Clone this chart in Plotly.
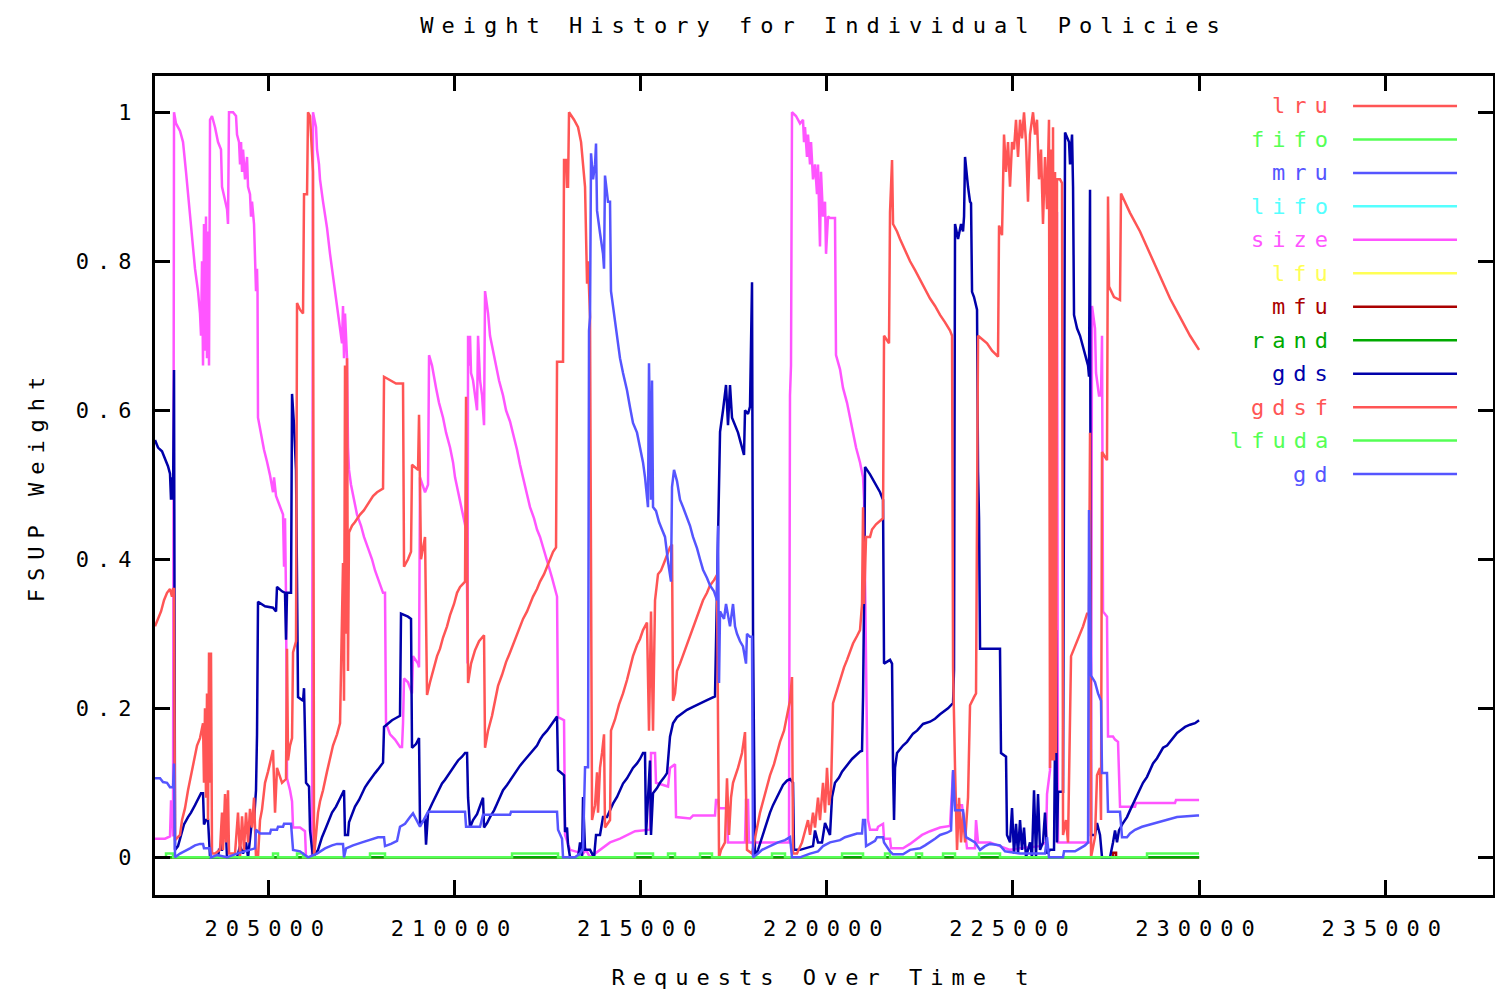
import plotly.graph_objects as go

# Weight history of the individual cache-replacement policies.
# Each series is a list of (request number, weight) points.

X_START, X_END = 201956, 230000

size_pts = [
    (201956, 0.025), (202225, 0.025), (202359, 0.028), (202386, 0.075), (202413, 0.075),
    (202440, 0.028), (202467, 1.0), (202520, 0.985), (202628, 0.975), (202709, 0.96),
    (202789, 0.92), (202843, 0.89), (202896, 0.86), (202977, 0.82), (203031, 0.79),
    (203111, 0.76), (203165, 0.73), (203192, 0.70), (203219, 0.80), (203246, 0.66),
    (203272, 0.85), (203299, 0.68), (203326, 0.86), (203353, 0.67), (203380, 0.84),
    (203407, 0.66), (203434, 0.99), (203487, 0.995), (203568, 0.98), (203649, 0.96),
    (203729, 0.95), (203756, 0.90), (203837, 0.88), (203891, 0.87), (203917, 0.85),
    (203944, 1.0), (204052, 1.0), (204132, 0.995), (204159, 0.97), (204213, 0.96),
    (204240, 0.93), (204267, 0.96), (204294, 0.92), (204321, 0.95), (204374, 0.91),
    (204428, 0.94), (204455, 0.90), (204508, 0.89), (204535, 0.86), (204562, 0.88),
    (204616, 0.85), (204642, 0.80), (204669, 0.76), (204696, 0.79), (204710, 0.76),
    (204723, 0.59), (204804, 0.567), (204884, 0.547), (204965, 0.531), (205045, 0.513),
    (205126, 0.49), (205153, 0.51), (205207, 0.485), (205287, 0.475), (205395, 0.46),
    (205422, 0.39), (205448, 0.455), (205475, 0.35), (205502, 0.106), (205583, 0.09),
    (205637, 0.075), (205664, 0.04), (205851, 0.04), (205985, 0.035), (206012, 0.0),
    (206173, 0.0), (206200, 1.0), (206281, 0.98), (206308, 0.95), (206361, 0.93),
    (206388, 0.91), (206469, 0.88), (206576, 0.845), (206657, 0.81), (206737, 0.78),
    (206818, 0.755), (206899, 0.72), (206979, 0.69), (207006, 0.74), (207033, 0.67),
    (207060, 0.73), (207114, 0.67), (207140, 0.55), (207167, 0.52), (207221, 0.50),
    (207302, 0.48), (207382, 0.46), (207490, 0.445), (207570, 0.43), (207678, 0.415),
    (207785, 0.40), (207866, 0.385), (207973, 0.37), (208081, 0.355), (208134, 0.355),
    (208161, 0.18), (208269, 0.165), (208403, 0.158), (208537, 0.148), (208591, 0.148),
    (208618, 0.18), (208645, 0.24), (208752, 0.235), (208859, 0.22), (208886, 0.27),
    (209021, 0.26), (209048, 0.255), (209074, 0.51), (209209, 0.49), (209290, 0.50),
    (209317, 0.674), (209397, 0.66), (209505, 0.63), (209585, 0.61), (209693, 0.59),
    (209774, 0.57), (209881, 0.55), (209962, 0.53), (210015, 0.51), (210096, 0.49),
    (210176, 0.47), (210257, 0.455), (210311, 0.44), (210338, 0.36), (210352, 0.26),
    (210365, 0.70), (210391, 0.66), (210418, 0.70), (210445, 0.65), (210499, 0.64),
    (210552, 0.62), (210606, 0.60), (210633, 0.70), (210687, 0.64), (210741, 0.62),
    (210794, 0.58), (210821, 0.76), (210902, 0.73), (210955, 0.70), (211036, 0.68),
    (211116, 0.66), (211197, 0.64), (211304, 0.62), (211385, 0.60), (211492, 0.585),
    (211573, 0.57), (211680, 0.547), (211761, 0.527), (211842, 0.51), (211949, 0.49),
    (212029, 0.47), (212137, 0.455), (212217, 0.44), (212298, 0.43), (212379, 0.417),
    (212460, 0.405), (212540, 0.389), (212621, 0.375), (212701, 0.36), (212755, 0.35),
    (212782, 0.188), (212943, 0.184), (212970, 0.03), (213104, 0.01), (213453, 0.005),
    (213534, 0.01), (213641, 0.0), (213909, 0.01), (214043, 0.015), (214178, 0.02),
    (214446, 0.025), (214661, 0.03), (214849, 0.035), (215252, 0.037), (215279, 0.14),
    (215387, 0.14), (215413, 0.10), (215736, 0.095), (215789, 0.12), (215924, 0.125),
    (215951, 0.054), (216327, 0.052), (216407, 0.056), (216998, 0.056), (217025, 0.077),
    (217079, 0.077), (217106, 0.066), (217320, 0.066), (217347, 0.02), (217804, 0.02),
    (217830, 0.077), (217884, 0.077), (217911, 0.02), (218985, 0.02), (219012, 0.62),
    (219039, 0.66), (219066, 1.0), (219173, 0.995), (219281, 0.985), (219362, 0.99),
    (219389, 0.96), (219415, 0.98), (219469, 0.94), (219496, 0.97), (219550, 0.93),
    (219577, 0.96), (219630, 0.91), (219684, 0.93), (219738, 0.89), (219765, 0.93),
    (219818, 0.82), (219845, 0.92), (219899, 0.86), (219953, 0.88), (219980, 0.81),
    (220033, 0.86), (220087, 0.858), (220221, 0.858), (220248, 0.674), (220356, 0.655),
    (220436, 0.63), (220544, 0.61), (220625, 0.59), (220705, 0.57), (220786, 0.55),
    (220893, 0.53), (220974, 0.51), (221001, 0.48), (221055, 0.26), (221081, 0.21),
    (221108, 0.05), (221162, 0.037), (221350, 0.037), (221377, 0.041), (221511, 0.045),
    (221538, 0.025), (221699, 0.025), (221726, 0.012), (222048, 0.012), (222237, 0.018),
    (222425, 0.025), (222559, 0.03), (222774, 0.035), (223042, 0.04), (223311, 0.042),
    (223392, 0.115), (223445, 0.07), (223633, 0.07), (223767, 0.012), (223982, 0.012),
    (224009, 0.05), (224063, 0.02), (224385, 0.02), (224653, 0.015), (224922, 0.01),
    (225191, 0.012), (225728, 0.015), (225889, 0.02), (225916, 0.085), (225996, 0.117),
    (226077, 0.866), (226131, 0.74), (226184, 0.866), (226211, 0.02), (226936, 0.02),
    (227097, 0.02), (227124, 0.74), (227205, 0.71), (227232, 0.65), (227312, 0.62),
    (227366, 0.62), (227393, 0.70), (227420, 0.33), (227527, 0.323), (227554, 0.162),
    (227688, 0.162), (227742, 0.158), (227823, 0.155), (227877, 0.068), (228280, 0.068),
    (228307, 0.073), (229354, 0.073), (229381, 0.077), (230000, 0.077),
]

gdsf_pts = [
    (201956, 0.31), (202037, 0.32), (202118, 0.33), (202198, 0.345), (202279, 0.355),
    (202359, 0.36), (202413, 0.35), (202440, 0.36), (202467, 0.36), (202494, 0.023),
    (202628, 0.03), (202682, 0.05), (202762, 0.066), (202843, 0.09), (202923, 0.11),
    (203004, 0.126), (203085, 0.15), (203165, 0.16), (203246, 0.18), (203272, 0.10),
    (203299, 0.20), (203326, 0.08), (203353, 0.22), (203380, 0.05), (203407, 0.275),
    (203434, 0.10), (203460, 0.275), (203487, 0.005), (203568, 0.005), (203702, 0.01),
    (203756, 0.06), (203783, 0.01), (203837, 0.085), (203864, 0.02), (203917, 0.09),
    (203944, 0.005), (204105, 0.005), (204186, 0.06), (204240, 0.0), (204294, 0.055),
    (204347, 0.01), (204401, 0.06), (204455, 0.02), (204508, 0.065), (204562, 0.04),
    (204616, 0.08), (204669, 0.0), (204723, 0.0), (204777, 0.05), (204830, 0.064),
    (204911, 0.10), (204992, 0.115), (205045, 0.126), (205126, 0.144), (205180, 0.06),
    (205233, 0.12), (205368, 0.10), (205475, 0.105), (205502, 0.28), (205529, 0.13),
    (205583, 0.15), (205637, 0.16), (205664, 0.275), (205744, 0.29), (205771, 0.744),
    (205851, 0.735), (205932, 0.73), (205959, 0.89), (206040, 0.89), (206066, 1.0),
    (206120, 0.995), (206200, 0.92), (206227, 0.0), (206281, 0.03), (206335, 0.06),
    (206388, 0.075), (206469, 0.09), (206576, 0.115), (206657, 0.135), (206737, 0.15),
    (206845, 0.165), (206926, 0.18), (207006, 0.395), (207033, 0.21), (207060, 0.66),
    (207087, 0.30), (207114, 0.67), (207140, 0.25), (207167, 0.436), (207248, 0.445),
    (207328, 0.45), (207463, 0.46), (207570, 0.466), (207678, 0.475), (207812, 0.485),
    (207920, 0.49), (208081, 0.495), (208108, 0.645), (208269, 0.64), (208430, 0.636),
    (208618, 0.636), (208645, 0.39), (208752, 0.40), (208833, 0.41), (208859, 0.527),
    (209021, 0.52), (209048, 0.594), (209101, 0.40), (209209, 0.43), (209263, 0.218),
    (209343, 0.235), (209451, 0.255), (209532, 0.27), (209612, 0.28), (209693, 0.295),
    (209800, 0.31), (209881, 0.325), (209988, 0.34), (210069, 0.355), (210150, 0.363),
    (210284, 0.37), (210311, 0.618), (210365, 0.234), (210445, 0.26), (210552, 0.278),
    (210660, 0.29), (210794, 0.298), (210821, 0.147), (210902, 0.17), (211009, 0.19),
    (211090, 0.21), (211170, 0.23), (211278, 0.245), (211385, 0.262), (211492, 0.275),
    (211573, 0.285), (211680, 0.298), (211761, 0.31), (211842, 0.32), (211949, 0.33),
    (212029, 0.34), (212110, 0.35), (212217, 0.36), (212298, 0.37), (212406, 0.38),
    (212487, 0.39), (212567, 0.40), (212648, 0.41), (212728, 0.416), (212755, 0.665),
    (212916, 0.665), (212943, 0.936), (212997, 0.936), (213023, 0.90), (213050, 0.90),
    (213077, 1.0), (213211, 0.99), (213319, 0.98), (213400, 0.96), (213507, 0.90),
    (213561, 0.77), (213588, 0.80), (213641, 0.725), (213668, 0.247), (213695, 0.05),
    (213776, 0.07), (213829, 0.114), (213856, 0.06), (213909, 0.12), (213963, 0.14),
    (214017, 0.165), (214043, 0.04), (214178, 0.05), (214204, 0.17), (214312, 0.185),
    (214419, 0.205), (214527, 0.22), (214634, 0.238), (214715, 0.255), (214795, 0.27),
    (214903, 0.285), (214983, 0.293), (215064, 0.305), (215171, 0.315), (215225, 0.17),
    (215279, 0.33), (215333, 0.17), (215387, 0.345), (215467, 0.38), (215548, 0.385),
    (215628, 0.395), (215736, 0.41), (215789, 0.416), (215843, 0.42), (215870, 0.21),
    (215924, 0.22), (215977, 0.25), (216058, 0.26), (216165, 0.275), (216246, 0.285),
    (216327, 0.298), (216407, 0.31), (216514, 0.325), (216595, 0.335), (216676, 0.345),
    (216783, 0.355), (216864, 0.365), (216971, 0.372), (217052, 0.379), (217079, 0.184),
    (217106, 0.0), (217160, 0.01), (217267, 0.02), (217320, 0.106), (217374, 0.03),
    (217428, 0.08), (217482, 0.10), (217616, 0.12), (217723, 0.14), (217804, 0.168),
    (217857, 0.01), (217992, 0.005), (218126, 0.04), (218207, 0.06), (218314, 0.08),
    (218395, 0.095), (218475, 0.11), (218583, 0.125), (218664, 0.14), (218744, 0.155),
    (218852, 0.17), (218932, 0.19), (219012, 0.21), (219066, 0.242), (219093, 0.005),
    (219200, 0.005), (219335, 0.02), (219442, 0.04), (219496, 0.05), (219550, 0.03),
    (219630, 0.06), (219684, 0.04), (219765, 0.08), (219818, 0.05), (219899, 0.10),
    (219953, 0.06), (220006, 0.12), (220060, 0.07), (220114, 0.09), (220168, 0.207),
    (220275, 0.225), (220356, 0.24), (220463, 0.255), (220544, 0.265), (220625, 0.275),
    (220705, 0.287), (220813, 0.297), (220893, 0.305), (220947, 0.34), (220974, 0.47),
    (221001, 0.34), (221055, 0.43), (221162, 0.43), (221216, 0.44), (221323, 0.447),
    (221511, 0.455), (221538, 0.70), (221672, 0.69), (221699, 0.866), (221753, 0.936),
    (221780, 0.85), (221887, 0.84), (221967, 0.83), (222102, 0.815), (222237, 0.80),
    (222371, 0.788), (222505, 0.775), (222640, 0.762), (222774, 0.75), (222908, 0.74),
    (223042, 0.728), (223177, 0.718), (223311, 0.707), (223365, 0.70), (223392, 0.254),
    (223445, 0.12), (223499, 0.01), (223553, 0.08), (223606, 0.02), (223660, 0.06),
    (223714, 0.02), (223794, 0.08), (223848, 0.204), (223955, 0.215), (224009, 0.22),
    (224063, 0.70), (224197, 0.695), (224305, 0.69), (224439, 0.68), (224600, 0.672),
    (224627, 0.848), (224707, 0.835), (224761, 0.97), (224815, 0.92), (224868, 0.96),
    (224922, 0.90), (224976, 0.96), (225029, 0.95), (225083, 0.99), (225137, 0.94),
    (225191, 0.99), (225244, 0.965), (225298, 1.0), (225352, 0.96), (225405, 0.88),
    (225459, 0.97), (225540, 1.0), (225594, 0.97), (225647, 0.99), (225701, 0.91),
    (225755, 0.95), (225808, 0.85), (225862, 0.94), (225916, 0.87), (225969, 0.99),
    (225996, 0.12), (226023, 0.95), (226050, 0.13), (226077, 0.98), (226104, 0.13),
    (226131, 0.92), (226157, 0.14), (226184, 0.91), (226265, 0.91), (226319, 0.905),
    (226346, 0.03), (226426, 0.05), (226480, 0.02), (226561, 0.27), (226641, 0.28),
    (226722, 0.29), (226803, 0.30), (226883, 0.31), (226991, 0.327), (227044, 0.327),
    (227071, 0.57), (227098, 0.0), (227205, 0.027), (227259, 0.11), (227339, 0.12),
    (227366, 0.05), (227393, 0.544), (227527, 0.533), (227554, 0.887), (227581, 0.766),
    (227715, 0.752), (227876, 0.748), (227903, 0.891), (228011, 0.88), (228145, 0.865),
    (228414, 0.84), (228683, 0.81), (228952, 0.78), (229221, 0.75), (229489, 0.725),
    (229758, 0.70), (230000, 0.681),
]

gds_pts = [
    (201956, 0.56), (202037, 0.55), (202144, 0.545), (202225, 0.535), (202305, 0.525),
    (202359, 0.515), (202386, 0.48), (202413, 0.51), (202440, 0.48), (202467, 0.654),
    (202494, 0.01), (202574, 0.015), (202655, 0.03), (202735, 0.044), (202843, 0.054),
    (202923, 0.06), (203031, 0.07), (203111, 0.078), (203192, 0.086), (203246, 0.086),
    (203272, 0.044), (203326, 0.05), (203380, 0.05), (203434, 0.0), (203649, 0.0),
    (203675, 0.01), (203756, 0.01), (203783, 0.035), (203864, 0.03), (203890, 0.0),
    (204159, 0.0), (204240, 0.015), (204320, 0.005), (204401, 0.02), (204455, 0.0),
    (204562, 0.05), (204616, 0.05), (204669, 0.09), (204696, 0.164), (204723, 0.343),
    (204804, 0.34), (204911, 0.337), (205126, 0.335), (205207, 0.33), (205233, 0.363),
    (205368, 0.357), (205448, 0.355), (205475, 0.292), (205502, 0.355), (205610, 0.355),
    (205637, 0.622), (205690, 0.58), (205744, 0.52), (205771, 0.278), (205798, 0.215),
    (205932, 0.21), (205959, 0.227), (206013, 0.10), (206093, 0.095), (206120, 0.036),
    (206200, 0.0), (206335, 0.01), (206442, 0.027), (206550, 0.04), (206630, 0.05),
    (206711, 0.06), (206818, 0.068), (206899, 0.076), (206979, 0.083), (207033, 0.09),
    (207060, 0.03), (207140, 0.03), (207167, 0.047), (207248, 0.057), (207328, 0.068),
    (207436, 0.077), (207517, 0.086), (207597, 0.094), (207678, 0.10), (207758, 0.106),
    (207866, 0.113), (207946, 0.118), (208027, 0.124), (208081, 0.127), (208108, 0.175),
    (208215, 0.18), (208322, 0.184), (208430, 0.187), (208537, 0.19), (208564, 0.327),
    (208752, 0.323), (208833, 0.32), (208859, 0.147), (208967, 0.152), (209048, 0.16),
    (209074, 0.046), (209209, 0.05), (209236, 0.017), (209290, 0.06), (209397, 0.072),
    (209478, 0.08), (209585, 0.09), (209666, 0.099), (209746, 0.104), (209827, 0.11),
    (209934, 0.118), (210015, 0.124), (210096, 0.13), (210203, 0.135), (210284, 0.14),
    (210338, 0.14), (210365, 0.08), (210418, 0.04), (210499, 0.05), (210606, 0.058),
    (210687, 0.068), (210767, 0.08), (210794, 0.04), (210875, 0.046), (210955, 0.054),
    (211063, 0.063), (211143, 0.072), (211224, 0.081), (211304, 0.09), (211412, 0.097),
    (211492, 0.103), (211573, 0.11), (211680, 0.117), (211761, 0.123), (211842, 0.128),
    (211949, 0.134), (212029, 0.139), (212110, 0.144), (212217, 0.15), (212298, 0.158),
    (212379, 0.164), (212487, 0.17), (212567, 0.176), (212648, 0.182), (212755, 0.189),
    (212782, 0.117), (212943, 0.11), (212970, 0.034), (213023, 0.04), (213050, 0.017),
    (213104, 0.0), (213319, 0.0), (213373, 0.02), (213427, 0.0), (213453, 0.081),
    (213507, 0.01), (213641, 0.01), (213749, 0.0), (213802, 0.03), (213909, 0.03),
    (213990, 0.054), (214097, 0.054), (214178, 0.063), (214258, 0.072), (214366, 0.081),
    (214446, 0.09), (214527, 0.099), (214634, 0.106), (214715, 0.113), (214795, 0.12),
    (214903, 0.126), (214983, 0.132), (215064, 0.14), (215118, 0.14), (215145, 0.03),
    (215252, 0.13), (215279, 0.03), (215333, 0.086), (215440, 0.093), (215521, 0.10),
    (215628, 0.107), (215709, 0.113), (215789, 0.162), (215870, 0.18), (215977, 0.188),
    (216112, 0.193), (216246, 0.198), (216407, 0.202), (216595, 0.206), (216783, 0.211),
    (216998, 0.216), (217079, 0.443), (217133, 0.571), (217213, 0.60), (217294, 0.634),
    (217347, 0.58), (217401, 0.634), (217455, 0.59), (217535, 0.58), (217616, 0.57),
    (217697, 0.555), (217777, 0.54), (217804, 0.60), (217884, 0.595), (217938, 0.605),
    (217992, 0.772), (218019, 0.305), (218072, 0.0), (218153, 0.01), (218234, 0.023),
    (218314, 0.035), (218395, 0.047), (218475, 0.06), (218556, 0.07), (218664, 0.08),
    (218744, 0.088), (218825, 0.097), (218932, 0.103), (219012, 0.105), (219093, 0.10),
    (219120, 0.01), (219281, 0.01), (219630, 0.015), (219684, 0.036), (219765, 0.02),
    (219872, 0.02), (219953, 0.046), (220087, 0.03), (220141, 0.081), (220221, 0.10),
    (220329, 0.107), (220410, 0.115), (220490, 0.12), (220598, 0.127), (220678, 0.132),
    (220786, 0.137), (220893, 0.142), (220947, 0.143), (220974, 0.215), (221001, 0.34),
    (221028, 0.524), (221162, 0.514), (221242, 0.507), (221350, 0.497), (221431, 0.49),
    (221511, 0.48), (221538, 0.26), (221699, 0.265), (221753, 0.26), (221780, 0.12),
    (221807, 0.05), (221833, 0.12), (221887, 0.14), (221967, 0.145), (222048, 0.15),
    (222156, 0.155), (222237, 0.16), (222317, 0.166), (222425, 0.17), (222505, 0.175),
    (222586, 0.179), (222774, 0.182), (222908, 0.186), (223042, 0.192), (223177, 0.197),
    (223257, 0.20), (223392, 0.207), (223418, 0.252), (223445, 0.85), (223526, 0.83),
    (223606, 0.85), (223660, 0.84), (223687, 0.86), (223714, 0.94), (223794, 0.90),
    (223848, 0.88), (223875, 0.878), (223902, 0.759), (223955, 0.752), (224036, 0.735),
    (224063, 0.517), (224090, 0.455), (224117, 0.28), (224653, 0.28), (224680, 0.14),
    (224815, 0.135), (224841, 0.03), (224922, 0.02), (224976, 0.066), (225029, 0.005),
    (225083, 0.045), (225137, 0.005), (225191, 0.05), (225244, 0.01), (225298, 0.04),
    (225352, 0.0), (225459, 0.02), (225513, 0.0), (225567, 0.09), (225620, 0.0),
    (225674, 0.085), (225728, 0.01), (225808, 0.02), (225862, 0.06), (225916, 0.005),
    (225996, 0.01), (226104, 0.01), (226157, 0.305), (226184, 0.02), (226211, 0.088),
    (226346, 0.088), (226373, 0.55), (226400, 0.973), (226507, 0.96), (226534, 0.93),
    (226588, 0.97), (226615, 0.90), (226641, 0.728), (226722, 0.71), (226803, 0.70),
    (226883, 0.685), (226964, 0.672), (227018, 0.66), (227044, 0.645), (227071, 0.896),
    (227098, 0.03), (227205, 0.03), (227259, 0.046), (227339, 0.03), (227393, 0.0),
    (227608, 0.0), (227688, 0.02), (227742, 0.036), (227796, 0.02), (227849, 0.036),
    (227957, 0.046), (228064, 0.054), (228145, 0.063), (228225, 0.072), (228333, 0.083),
    (228414, 0.093), (228494, 0.10), (228602, 0.108), (228683, 0.117), (228763, 0.126),
    (228871, 0.133), (228952, 0.14), (229032, 0.147), (229140, 0.15), (229221, 0.155),
    (229301, 0.16), (229409, 0.167), (229489, 0.17), (229624, 0.175), (229758, 0.178),
    (229892, 0.18), (230000, 0.184),
]

gd_pts = [
    (201956, 0.106), (202091, 0.106), (202171, 0.101), (202279, 0.10), (202359, 0.094),
    (202440, 0.094), (202467, 0.126), (202494, 0.0), (202628, 0.005), (202762, 0.008),
    (202896, 0.012), (203031, 0.016), (203165, 0.018), (203246, 0.018), (203272, 0.012),
    (203434, 0.012), (203460, 0.0), (203622, 0.003), (203890, 0.0), (204159, 0.005),
    (204508, 0.01), (204642, 0.012), (204669, 0.037), (204777, 0.032), (205045, 0.032),
    (205072, 0.037), (205233, 0.037), (205260, 0.041), (205395, 0.041), (205422, 0.045),
    (205610, 0.045), (205664, 0.01), (205851, 0.008), (206066, 0.0), (206308, 0.005),
    (206523, 0.012), (206711, 0.016), (206845, 0.018), (207006, 0.018), (207033, 0.0),
    (207087, 0.012), (207275, 0.016), (207517, 0.02), (207731, 0.023), (207946, 0.027),
    (208108, 0.027), (208134, 0.015), (208296, 0.018), (208457, 0.022), (208537, 0.041),
    (208672, 0.045), (208806, 0.054), (208886, 0.059), (209074, 0.041), (209290, 0.061),
    (210284, 0.061), (210311, 0.041), (210687, 0.041), (210767, 0.057), (211492, 0.057),
    (211519, 0.061), (212755, 0.061), (212782, 0.037), (212889, 0.025), (212916, 0.0),
    (213238, 0.0), (213373, 0.005), (213453, 0.012), (213507, 0.121), (213588, 0.121),
    (213614, 0.707), (213641, 0.725), (213668, 0.945), (213722, 0.91), (213776, 0.93),
    (213802, 0.958), (213829, 0.868), (213909, 0.838), (213990, 0.81), (214017, 0.79),
    (214043, 0.915), (214124, 0.88), (214178, 0.88), (214204, 0.76), (214285, 0.73),
    (214366, 0.70), (214446, 0.67), (214527, 0.65), (214634, 0.627), (214715, 0.604),
    (214795, 0.583), (214903, 0.57), (214983, 0.55), (215064, 0.53), (215118, 0.51),
    (215198, 0.47), (215225, 0.663), (215279, 0.48), (215306, 0.64), (215333, 0.47),
    (215413, 0.465), (215494, 0.45), (215574, 0.44), (215655, 0.43), (215736, 0.397),
    (215816, 0.37), (215843, 0.497), (215897, 0.52), (215977, 0.505), (216058, 0.48),
    (216139, 0.47), (216246, 0.455), (216327, 0.445), (216407, 0.43), (216514, 0.415),
    (216595, 0.40), (216676, 0.386), (216783, 0.375), (216864, 0.365), (216971, 0.357),
    (217052, 0.345), (217079, 0.445), (217106, 0.234), (217133, 0.33), (217240, 0.32),
    (217294, 0.34), (217401, 0.31), (217482, 0.34), (217535, 0.31), (217589, 0.30),
    (217670, 0.29), (217750, 0.283), (217831, 0.26), (217857, 0.30), (217938, 0.296),
    (217992, 0.296), (218019, 0.0), (218153, 0.005), (218261, 0.01), (218475, 0.015),
    (218690, 0.02), (218878, 0.023), (219012, 0.027), (219066, 0.0), (219281, 0.0),
    (219550, 0.005), (219765, 0.008), (219899, 0.015), (220087, 0.02), (220356, 0.023),
    (220490, 0.027), (220813, 0.032), (220947, 0.032), (220974, 0.05), (221028, 0.05),
    (221055, 0.015), (221162, 0.018), (221296, 0.022), (221350, 0.027), (221511, 0.027),
    (221538, 0.02), (221645, 0.012), (221699, 0.008), (221780, 0.004), (222048, 0.004),
    (222237, 0.01), (222505, 0.012), (222640, 0.016), (222774, 0.02), (222908, 0.025),
    (223042, 0.03), (223230, 0.033), (223338, 0.036), (223392, 0.117), (223445, 0.063),
    (223660, 0.063), (223740, 0.027), (223982, 0.02), (224117, 0.01), (224251, 0.015),
    (224385, 0.018), (224653, 0.016), (224788, 0.008), (225191, 0.005), (225862, 0.005),
    (225916, 0.027), (225969, 0.0), (226346, 0.0), (226373, 0.008), (226668, 0.008),
    (226803, 0.012), (226937, 0.016), (227018, 0.02), (227044, 0.466), (227098, 0.244),
    (227205, 0.235), (227286, 0.22), (227366, 0.21), (227393, 0.113), (227527, 0.113),
    (227554, 0.061), (227876, 0.061), (227930, 0.027), (228064, 0.027), (228145, 0.032),
    (228279, 0.037), (228467, 0.041), (228763, 0.045), (229086, 0.05), (229409, 0.054),
    (229946, 0.056), (230000, 0.056),
]

# piecewise-constant series (value holds until the next change point)
lfuda_steps = [
    (201956, 0.0), (202252, 0.005), (202440, 0.0), (205126, 0.005), (205260, 0.0),
    (205771, 0.005), (205932, 0.0), (207731, 0.005), (208134, 0.0), (211546, 0.005),
    (212782, 0.0), (214849, 0.005), (215333, 0.0), (215736, 0.005), (215924, 0.0),
    (216595, 0.005), (216917, 0.0), (218529, 0.005), (218878, 0.0), (220410, 0.005),
    (220974, 0.0), (221565, 0.005), (221699, 0.0), (222398, 0.005), (222559, 0.0),
    (223123, 0.005), (223445, 0.0), (224090, 0.005), (224653, 0.0), (228602, 0.005),
    (230000, 0.005),
]
mfu_steps = [(201956, 0.0), (227688, 0.006), (227770, 0.0), (230000, 0.0)]
zero_steps = [(X_START, 0.0), (X_END, 0.0)]

policies = ["lru", "fifo", "mru", "lifo", "size", "lfu",
            "mfu", "rand", "gds", "gdsf", "lfuda", "gd"]
colors = {
    "lru": "#ff5555", "fifo": "#55ff55", "mru": "#5555ff", "lifo": "#55ffff",
    "size": "#ff55ff", "lfu": "#ffff55", "mfu": "#aa0000", "rand": "#00aa00",
    "gds": "#0000aa", "gdsf": "#ff5555", "lfuda": "#55ff55", "gd": "#5555ff",
}
series = {
    "lru": (zero_steps, "linear"), "fifo": (zero_steps, "linear"),
    "mru": (zero_steps, "linear"), "lifo": (zero_steps, "linear"),
    "size": (size_pts, "linear"), "lfu": (zero_steps, "linear"),
    "mfu": (mfu_steps, "hv"), "rand": (zero_steps, "linear"),
    "gds": (gds_pts, "linear"), "gdsf": (gdsf_pts, "linear"),
    "lfuda": (lfuda_steps, "hv"), "gd": (gd_pts, "linear"),
}

FONT = "DejaVu Sans Mono"
W, H = 1495, 994
ML, MR, MT, MB = 155, 2, 76, 99

fig = go.Figure()
for name in policies:
    pts, shape = series[name]
    fig.add_trace(go.Scatter(
        x=[p[0] for p in pts], y=[p[1] for p in pts], name=name,
        mode="lines", line=dict(color=colors[name], width=2.5, shape=shape),
        showlegend=False, hoverinfo="skip",
    ))

# key in the upper right corner: coloured label, then a line sample
key_top, key_step = 0.9634, 0.04086
key_text_x, key_line_x0, key_line_x1 = 0.884, 0.8954, 0.9731
annotations = []
shapes = []
for i, name in enumerate(policies):
    yk = key_top - i * key_step
    annotations.append(dict(
        x=key_text_x, y=yk, xref="paper", yref="paper", text=name,
        showarrow=False, xanchor="right", yanchor="middle", align="right",
        font=dict(family=FONT, size=22, color=colors[name]),
    ))
    shapes.append(dict(
        type="line", xref="paper", yref="paper", x0=key_line_x0, x1=key_line_x1,
        y0=yk, y1=yk, line=dict(color=colors[name], width=2.5),
    ))

axis_common = dict(
    showline=True, linecolor="black", linewidth=3, mirror="allticks",
    ticks="inside", ticklen=15, tickwidth=3, tickcolor="black",
    showgrid=False, zeroline=False,
    tickfont=dict(family=FONT, size=22, color="black"),
)

fig.update_layout(
    width=W, height=H,
    margin=dict(l=ML, r=MR, t=MT, b=MB, autoexpand=False),
    plot_bgcolor="white", paper_bgcolor="white",
    title=dict(text="Weight History for Individual Policies",
               x=0.5, xref="paper", xanchor="center",
               y=1 - 25 / H, yref="container", yanchor="middle",
               font=dict(family=FONT, size=22, color="black")),
    xaxis=dict(range=[201956, 237895], tick0=205000, dtick=5000, tickformat="d",
               title=dict(text="Requests Over Time t", standoff=30,
                          font=dict(family=FONT, size=22, color="black")),
               ticklabelstandoff=12, **axis_common),
    yaxis=dict(range=[-0.0506, 1.0487], tick0=0, dtick=0.2,
               title=dict(text="FSUP Weight", standoff=50,
                          font=dict(family=FONT, size=22, color="black")),
               ticklabelstandoff=8, **axis_common),
    annotations=annotations, shapes=shapes,
)

# widen the character pitch of every label to the wide terminal style
spacing_js = (
    "var gd = document.getElementById('{plot_id}');"
    "gd.querySelectorAll('text').forEach(function(t){t.style.letterSpacing='8px';});"
)
fig.write_html("out.html", post_script=spacing_js, config={"responsive": False})
